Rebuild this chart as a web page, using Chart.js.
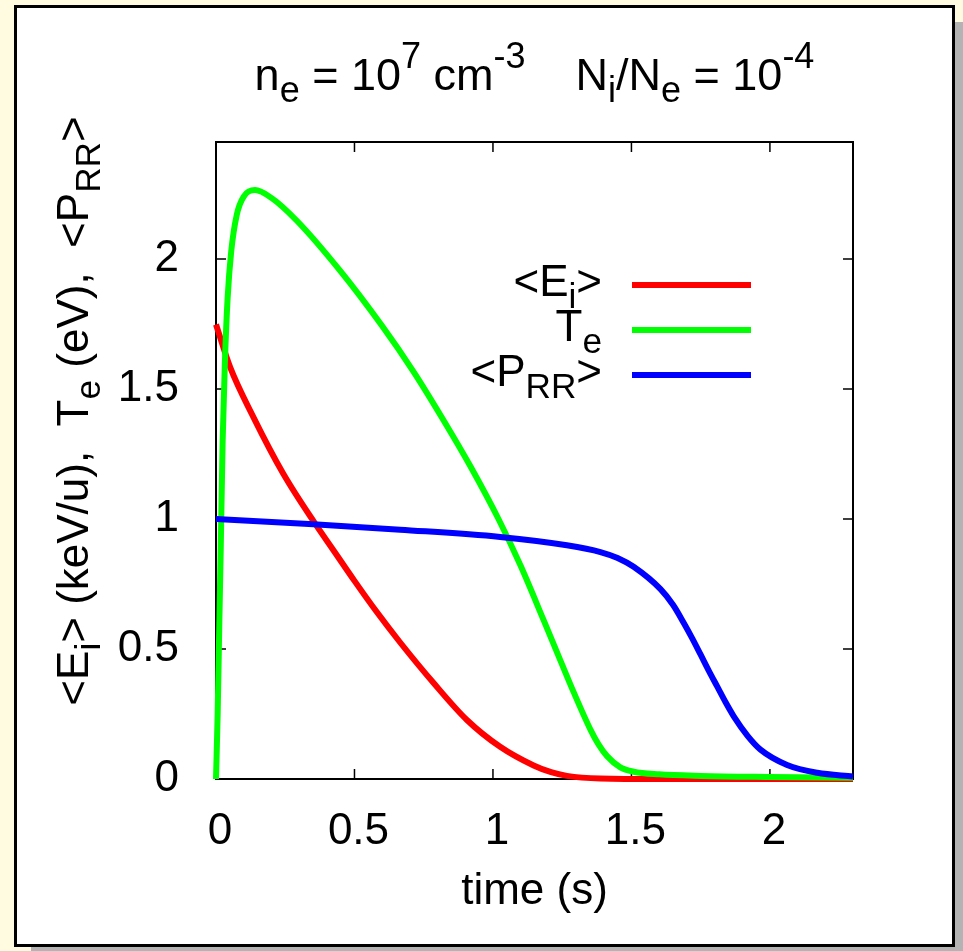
<!DOCTYPE html>
<html lang="en">
<head>
<meta charset="UTF-8">
<title>Ion energy, electron temperature and RR power vs time</title>
<script src="https://cdn.jsdelivr.net/npm/chart.js"></script>
<style>
  html, body { margin: 0; padding: 0; }
  body { width: 963px; height: 951px; background: #fffbe0; position: relative; overflow: hidden; }
  .panel { position: absolute; left: 14px; top: 5px; width: 935px; height: 936px; background: #fff; border: 3px solid #000; box-shadow: 17px 17px 0 #b3b3b3; }
  #plot { position: absolute; left: 0; top: 0; }
</style>
</head>
<body>
<div class="panel"></div>
<canvas id="plot" width="963" height="951"></canvas>
<script>
const FONT = '"Liberation Sans", Arial, Helvetica, sans-serif';

// <E_i> (keV/u) against time (s)
const tIon = [0, 0.051, 0.135, 0.243, 0.358, 0.424, 0.5, 0.58, 0.665, 0.785, 0.906, 1.026, 1.147, 1.21, 1.267, 1.388, 1.6, 2.0, 2.3];
const eIon = [1.748, 1.584, 1.392, 1.174, 0.982, 0.88, 0.762, 0.643, 0.525, 0.37, 0.227, 0.124, 0.052, 0.026, 0.012, 0.002, 0, 0, 0];

// T_e (eV) against time (s)
const tElec = [0, 0.006, 0.012, 0.017, 0.024, 0.032, 0.042, 0.055, 0.075, 0.1, 0.141, 0.2, 0.292, 0.448, 0.6, 0.713, 0.822, 0.92, 1.02, 1.1, 1.183, 1.24, 1.291, 1.352, 1.38, 1.412, 1.46, 1.508, 1.6, 1.75, 2.0, 2.3];
const tempElec = [0, 0.25, 0.6, 0.88, 1.3, 1.6, 1.85, 2.03, 2.17, 2.24, 2.265, 2.235, 2.147, 1.955, 1.742, 1.567, 1.379, 1.2, 1.0, 0.82, 0.611, 0.465, 0.335, 0.19, 0.135, 0.088, 0.045, 0.028, 0.018, 0.012, 0.008, 0.005];

// <P_RR> against time (s)
const tRR = [0, 0.352, 0.665, 1.026, 1.267, 1.388, 1.45, 1.508, 1.605, 1.65, 1.689, 1.72, 1.749, 1.78, 1.81, 1.84, 1.87, 1.92, 1.966, 2.062, 2.171, 2.3];
const pRR = [1.0, 0.98, 0.959, 0.931, 0.899, 0.873, 0.85, 0.816, 0.73, 0.67, 0.6, 0.54, 0.48, 0.415, 0.355, 0.295, 0.24, 0.165, 0.113, 0.054, 0.024, 0.01];

const xTicks = [0, 0.5, 1, 1.5, 2];
const yTicks = [0, 0.5, 1, 1.5, 2];

// labels use _x / ^{xy} for sub- and superscripts
const seriesLabels = ['<E_i>', 'T_e', '<P_{RR}>'];
const seriesColors = ['#ff0000', '#00ff00', '#0000ff'];
const titleText = 'n_e = 10^7 cm^{-3}    N_i/N_e = 10^{-4}';
const xTitle = 'time (s)';
const yTitle = '<E_i> (keV/u),  T_e (eV),  <P_{RR}>';

// split markup into runs: shift 0 normal, -1 subscript, 1 superscript
function parseMarkup(str) {
  const runs = [];
  let i = 0;
  while (i < str.length) {
    const c = str[i];
    if (c === '_' || c === '^') {
      const shift = c === '_' ? -1 : 1;
      let txt;
      if (str[i + 1] === '{') {
        const end = str.indexOf('}', i);
        txt = str.slice(i + 2, end);
        i = end + 1;
      } else {
        txt = str[i + 1];
        i += 2;
      }
      runs.push({ text: txt, shift: shift });
    } else {
      const last = runs[runs.length - 1];
      if (last && last.shift === 0) last.text += c;
      else runs.push({ text: c, shift: 0 });
      i++;
    }
  }
  return runs;
}

function setFont(ctx, run, size) {
  ctx.font = (run.shift ? size * 0.8 : size) + 'px ' + FONT;
}

// baseline at (x, y)
function drawRich(ctx, str, x, y, size, align) {
  const runs = parseMarkup(str);
  let w = 0;
  runs.forEach(r => { setFont(ctx, r, size); w += ctx.measureText(r.text).width; });
  let cx = align === 'center' ? x - w / 2 : align === 'right' ? x - w : x;
  ctx.textAlign = 'left';
  ctx.textBaseline = 'alphabetic';
  runs.forEach(r => {
    setFont(ctx, r, size);
    const dy = r.shift === -1 ? size * 0.27 : r.shift === 1 ? -size * 0.5 : 0;
    ctx.fillText(r.text, cx, y + dy);
    cx += ctx.measureText(r.text).width;
  });
}

// box with inward ticks on all four sides
const framePlugin = {
  id: 'frame',
  beforeDatasetsDraw(chart) {
    const { ctx, chartArea: a, scales: { x, y } } = chart;
    ctx.save();
    ctx.strokeStyle = '#000';
    ctx.lineWidth = 1.5;
    ctx.beginPath();
    xTicks.forEach(v => {
      const px = x.getPixelForValue(v);
      ctx.moveTo(px, a.bottom); ctx.lineTo(px, a.bottom - 10);
      ctx.moveTo(px, a.top); ctx.lineTo(px, a.top + 10);
    });
    yTicks.forEach(v => {
      const py = y.getPixelForValue(v);
      ctx.moveTo(a.left, py); ctx.lineTo(a.left + 10, py);
      ctx.moveTo(a.right, py); ctx.lineTo(a.right - 10, py);
    });
    ctx.stroke();
    ctx.lineWidth = 2;
    ctx.strokeRect(a.left, a.top, a.right - a.left, a.bottom - a.top);
    ctx.restore();
  }
};

// title, axis titles and key
const textPlugin = {
  id: 'texts',
  afterDraw(chart) {
    const { ctx, chartArea: a } = chart;
    const mid = (a.left + a.right) / 2;
    ctx.save();
    ctx.fillStyle = '#000';
    drawRich(ctx, titleText, mid, 90, 45, 'center');
    drawRich(ctx, xTitle, mid, 904, 44, 'center');

    chart.data.datasets.forEach((ds, i) => {
      const ly = 285 + 45 * i;
      ctx.fillStyle = '#000';
      drawRich(ctx, ds.label, 602, ly + 11, 44, 'right');
      ctx.strokeStyle = ds.borderColor;
      ctx.lineWidth = 6;
      ctx.beginPath();
      ctx.moveTo(632, ly);
      ctx.lineTo(751, ly);
      ctx.stroke();
    });

    ctx.translate(88, 411);
    ctx.rotate(-Math.PI / 2);
    ctx.fillStyle = '#000';
    drawRich(ctx, yTitle, 0, 0, 44, 'center');
    ctx.restore();
  }
};

const toPoints = (ts, vs) => ts.map((t, i) => ({ x: t, y: vs[i] }));
const lineStyle = {
  borderWidth: 6,
  pointRadius: 0,
  fill: false,
  clip: false,
  cubicInterpolationMode: 'monotone'
};

const tickFont = { family: FONT, size: 44 };

new Chart(document.getElementById('plot'), {
  type: 'line',
  data: {
    datasets: [
      Object.assign({ label: seriesLabels[0], data: toPoints(tIon, eIon), borderColor: seriesColors[0], order: 2 }, lineStyle),
      Object.assign({ label: seriesLabels[1], data: toPoints(tElec, tempElec), borderColor: seriesColors[1], order: 1 }, lineStyle),
      Object.assign({ label: seriesLabels[2], data: toPoints(tRR, pRR), borderColor: seriesColors[2], order: 0 }, lineStyle)
    ]
  },
  options: {
    responsive: false,
    animation: false,
    devicePixelRatio: 1,
    layout: { padding: { top: 142, right: 110, left: 0, bottom: 0 } },
    plugins: {
      legend: { display: false },
      tooltip: { enabled: false }
    },
    scales: {
      x: {
        type: 'linear',
        min: 0,
        max: 2.3,
        grid: { display: false },
        border: { display: false },
        ticks: {
          font: tickFont,
          color: '#000',
          padding: 18,
          labelOffset: 4,
          maxRotation: 0,
          autoSkip: false,
          callback: v => String(v)
        },
        afterBuildTicks: s => { s.ticks = xTicks.map(v => ({ value: v })); },
        afterFit: s => { s.height = 172; }
      },
      y: {
        type: 'linear',
        min: 0,
        max: 2.45,
        grid: { display: false },
        border: { display: false },
        ticks: {
          font: tickFont,
          color: '#000',
          padding: 29,
          autoSkip: false,
          callback: v => String(v)
        },
        afterBuildTicks: s => { s.ticks = yTicks.map(v => ({ value: v })); },
        afterFit: s => { s.width = 216; }
      }
    }
  },
  plugins: [framePlugin, textPlugin]
});
</script>
</body>
</html>
